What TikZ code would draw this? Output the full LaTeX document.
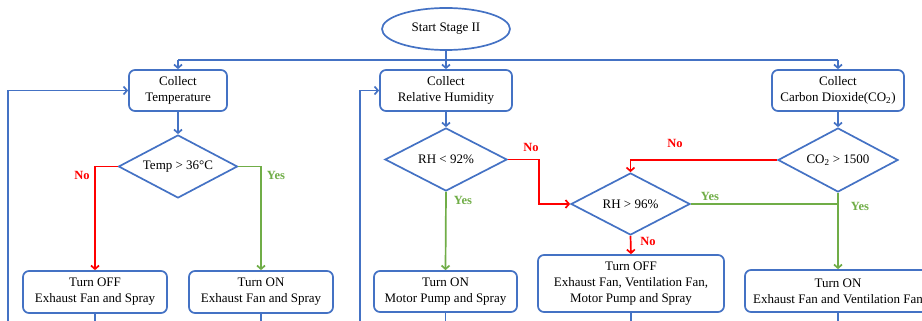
\documentclass[tikz,border=0pt]{standalone}
\usepackage{fontspec}
\setmainfont{Liberation Serif}
\usetikzlibrary{shapes.geometric,arrows.meta}
\definecolor{bl}{HTML}{4472C4}
\definecolor{rd}{HTML}{FF0000}
\definecolor{gn}{HTML}{70AD47}
\tikzset{
  txt/.style={font=\fontsize{13}{16}\selectfont, align=center, inner sep=0pt},
  blk/.style={txt, draw=bl, line width=1.7pt, rounded corners=6pt},
  dia/.style={txt, draw=bl, line width=1.7pt, diamond, aspect=2},
  flow/.style={draw=bl, line width=1.7pt, -{Straight Barb[length=3.5pt,width=8pt]}},
  flowr/.style={draw=rd, line width=1.7pt, -{Straight Barb[length=3.5pt,width=8pt]}},
  flowg/.style={draw=gn, line width=1.7pt, -{Straight Barb[length=3.5pt,width=8pt]}},
  lbr/.style={text=rd, font=\fontsize{12.5}{14}\selectfont\bfseries, inner sep=0pt},
  lbg/.style={text=gn, font=\fontsize{12.5}{14}\selectfont\bfseries, inner sep=0pt},
}
\begin{document}
\begin{tikzpicture}[x=1pt,y=-1pt]
\useasboundingbox (0,0) rectangle (922,321);
% nodes
\node[txt, draw=bl, line width=1.7pt, ellipse, minimum width=128, minimum height=42] (start) at (446,29) {Start Stage II};
\node[blk, minimum width=98, minimum height=41] (ct) at (178,90.5) {Collect\\Temperature};
\node[blk, minimum width=132, minimum height=41] (crh) at (446,90.5) {Collect\\Relative Humidity};
\node[blk, minimum width=132, minimum height=41] (cco) at (838,90.5) {Collect\\Carbon Dioxide(CO\textsubscript{2})};
\node[dia, minimum width=119, minimum height=63] (dt) at (178,166.5) {Temp > 36\textdegree C};
\node[dia, minimum width=122, minimum height=63] (drh1) at (446,159.5) {RH < 92\%};
\node[dia, minimum width=119, minimum height=62] (drh2) at (630.5,204) {RH > 96\%};
\node[dia, minimum width=120, minimum height=64] (dco) at (838,160) {CO\textsubscript{2} > 1500};
\node[blk, minimum width=144, minimum height=42] (toff) at (95,292) {Turn OFF\\Exhaust Fan and Spray};
\node[blk, minimum width=144, minimum height=42] (ton) at (261,292) {Turn ON\\Exhaust Fan and Spray};
\node[blk, minimum width=143, minimum height=41] (tmp) at (445.5,291.5) {Turn ON\\Motor Pump and Spray};
\node[blk, minimum width=186, minimum height=57] (toff2) at (631,283.5) {Turn OFF\\Exhaust Fan, Ventilation Fan,\\Motor Pump and Spray};
\node[blk, minimum width=186, minimum height=42] (tev) at (838,291) {Turn ON\\Exhaust Fan and Ventilation Fan};
% coordinates
\coordinate (hl) at (178,60);
\coordinate (hr) at (838,60);
\coordinate (b1) at (8,321);
\coordinate (b2) at (360,321);
\coordinate (o1) at (95,321);
\coordinate (o2) at (261,321);
\coordinate (o3) at (445.5,321);
\coordinate (o4) at (631,321);
\coordinate (o5) at (838,321);
% top distribution
\draw[draw=bl, line width=1.7pt] (hl) -- (hr);
\draw[flow] (start) -- (crh);
\draw[flow] (hl) -- (ct);
\draw[flow] (hr) -- (cco);
\draw[flow] (ct) -- (dt);
\draw[flow] (crh) -- (drh1);
\draw[flow] (cco) -- (dco);
% feedback and outgoing lines
\draw[flow] (b1) |- (ct.west);
\draw[flow] (b2) |- (crh.west);
\draw[draw=bl, line width=1.7pt] (toff) -- (o1);
\draw[draw=bl, line width=1.7pt] (ton) -- (o2);
\draw[draw=bl, line width=1.7pt] (tmp) -- (o3);
\draw[draw=bl, line width=1.7pt] (toff2) -- (o4);
\draw[draw=bl, line width=1.7pt] (tev) -- (o5);
% temperature branches
\draw[flowr] (dt.west) -| (toff.north);
\node[lbr] (n1) at (82,175) {No};
\draw[flowg] (dt.east) -| (ton.north);
\node[lbg] (y1) at (276,175) {Yes};
% RH branches
\draw[flowr] (drh1.east) -- ++(31,0) |- (drh2.west);
\node[lbr] (n2) at (531,147) {No};
\draw[flowg] (drh1.south) -- (tmp.north);
\node[lbg] (y2) at (463,200) {Yes};
\draw[flowr] (drh2.south) -- (toff2.north);
\node[lbr] (n3) at (648,241) {No};
\draw[draw=gn, line width=1.7pt] (drh2.east) -- (drh2.east -| dco.south);
\node[lbg] (y3) at (710,196) {Yes};
% CO2 branches
\draw[flowr] (dco.west) -| (drh2.north);
\node[lbr] (n4) at (675,143) {No};
\draw[flowg] (dco.south) -- (tev.north);
\node[lbg] (y4) at (860,206) {Yes};
\end{tikzpicture}
\end{document}
